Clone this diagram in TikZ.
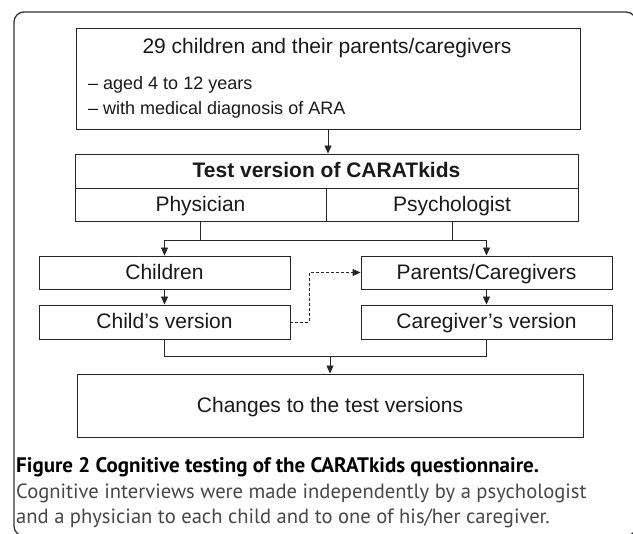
\documentclass[tikz,border=0pt]{standalone}
\usepackage{fontspec}
\setmainfont{Liberation Sans}
\newfontfamily\capfont{PT Sans}
\usetikzlibrary{arrows.meta}

\def \lineW {0.9pt}
\def \bigSize {\fontsize{21}{25}\selectfont}
\def \smallSize {\fontsize{18}{22}\selectfont}

\tikzset{
  box/.style={draw=black!85, line width=\lineW, inner sep=0pt, minimum height=33pt, text height=16pt, text depth=2pt, text=black!90, font=\bigSize},
  label/.style={inner sep=0pt, text=black!90},
  link/.style={draw=black!85, line width=\lineW},
  arr/.style={link, -{Triangle[length=8pt,width=7pt]}},
  captext/.style={anchor=base west, inner sep=0pt, font=\capfont\fontsize{20.6}{24}\selectfont}
}

\begin{document}
\begin{tikzpicture}[x=1pt,y=-1pt]
   \useasboundingbox (0,0) rectangle (633,534);
   \draw[line width=1.3pt, black!80, rounded corners=10pt] (14,12) rectangle (636,536);

   \node[box, minimum width=504pt, minimum height=101pt] (sample) at (328,78.5) {};
   \node[label, font=\bigSize] (sampletitle) at (327,48) {29 children and their parents/caregivers};
   \node[label, anchor=west, font=\smallSize] (aged) at (88,85) {– aged 4 to 12 years};
   \node[label, anchor=west, font=\smallSize] (diagnosis) at (88,110) {– with medical diagnosis of ARA};

   \node[box, minimum width=503pt, minimum height=34pt, font=\bigSize\bfseries] (test) at (326.5,171) {Test version of CARATkids};
   \node[box, minimum width=251pt] (physician) at (200.5,204.5) {Physician};
   \node[box, minimum width=252pt] (psychologist) at (452,204.5) {Psychologist};

   \node[box, minimum width=251pt] (children) at (164.5,272.5) {Children};
   \node[box, minimum width=251pt, minimum height=34pt] (childver) at (164.5,322) {Child’s version};
   \node[box, minimum width=251pt] (parents) at (486.5,272.5) {Parents/Caregivers};
   \node[box, minimum width=251pt, minimum height=34pt] (carever) at (486.5,322) {Caregiver’s version};

   \node[box, minimum width=506pt, minimum height=63pt] (changes) at (330,405.5) {Changes to the test versions};

   \coordinate (split) at (326,240);
   \path (changes.north) ++(0,-17) coordinate (merge);

   \draw[arr] (sample.south) -- (sample.south |- test.north);
   \draw[arr] (physician.south) |- (children.north |- split) -- (children.north);
   \draw[arr] (psychologist.south) |- (parents.north |- split) -- (parents.north);
   \draw[link] (physician.south |- split) -- (psychologist.south |- split);
   \draw[arr] (children) -- (childver);
   \draw[arr] (parents) -- (carever);
   \draw[arr, dash pattern=on 3pt off 2pt] (childver.east) -- ++(19,0) |- (parents.west);
   \draw[link] (childver.south) |- (merge) -| (carever.south);
   \draw[arr] (merge) -- (changes.north);

   \node[captext, font=\capfont\bfseries\fontsize{21}{24}\selectfont] (captitle) at (16,473) {Figure 2 Cognitive testing of the CARATkids questionnaire.};
   \node[captext, text=black!72] (capfirst) at (16,499) {Cognitive interviews were made independently by a psychologist};
   \node[captext, text=black!72] (capsecond) at (16,524) {and a physician to each child and to one of his/her caregiver.};
\end{tikzpicture}
\end{document}
